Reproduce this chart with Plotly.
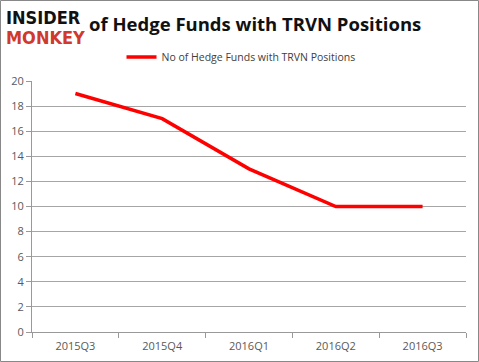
import plotly.graph_objects as go

quarters = ["2015Q3", "2015Q4", "2016Q1", "2016Q2", "2016Q3"]
funds = [19, 17, 13, 10, 10]
y_ticks = [0, 2, 4, 6, 8, 10, 12, 14, 16, 18, 20]

W, H = 479, 362
ml, mr, mt, mb = 32, 13, 81, 30
pw, ph = W - ml - mr, H - mt - mb

def px(x):
    return (x - ml) / pw

def py(y):
    return (H - mb - y) / ph

fig = go.Figure()
fig.add_trace(go.Scatter(
    x=quarters, y=funds, mode="lines",
    line=dict(color="#ff0000", width=3.5),
    name="No of Hedge Funds with TRVN Positions",
))

logo_font = "DejaVu Sans Condensed, DejaVu Sans, sans-serif"

fig.update_layout(
    width=W, height=H,
    margin=dict(l=ml, r=mr, t=mt, b=mb),
    paper_bgcolor="white", plot_bgcolor="white",
    showlegend=True,
    legend=dict(orientation="h", x=px(241), xanchor="center", y=py(57), yanchor="middle",
                font=dict(family="Open Sans, Liberation Sans, sans-serif", size=10.5, color="#404040"),
                bgcolor="rgba(0,0,0,0)", itemwidth=30),
    xaxis=dict(
        type="category", showgrid=False, showline=True, linecolor="#999999", linewidth=1,
        ticks="outside", tickson="boundaries", ticklen=5, tickcolor="#999999",
        ticklabelstandoff=4, automargin=False,
        tickfont=dict(family="Open Sans, Liberation Sans, sans-serif", size=11, color="#595959"),
        range=[-0.5, 4.5], fixedrange=True,
    ),
    yaxis=dict(
        range=[0, 20], tickvals=y_ticks, showgrid=True, gridcolor="#a6a6a6", gridwidth=1,
        showline=True, linecolor="#999999", linewidth=1, ticks="outside", ticklen=5,
        tickcolor="#999999", zeroline=False, fixedrange=True, automargin=False,
        tickfont=dict(family="Open Sans, Liberation Sans, sans-serif", size=11, color="#595959"),
    ),
    annotations=[
        dict(text="<b>INSIDER</b>", x=px(4), y=py(17), xref="paper", yref="paper",
             xanchor="left", yanchor="middle", showarrow=False,
             font=dict(family=logo_font, size=18, color="#111111")),
        dict(text="<b>MONKEY</b>", x=px(4), y=py(38), xref="paper", yref="paper",
             xanchor="left", yanchor="middle", showarrow=False,
             font=dict(family=logo_font, size=18, color="#d0392b")),
        dict(text="<b>of Hedge Funds with TRVN Positions</b>", x=px(87), y=py(24), xref="paper", yref="paper",
             xanchor="left", yanchor="middle", showarrow=False,
             font=dict(family="Open Sans, Liberation Sans, sans-serif", size=18.5, color="#111111")),
    ],
    shapes=[
        dict(type="rect", xref="paper", yref="paper", x0=px(0.5), x1=px(W - 0.5),
             y0=py(H - 0.5), y1=py(0.5), line=dict(color="#888888", width=1), layer="below"),
    ],
)

fig.write_html("out.html", config={"displayModeBar": False},
               post_script="document.body.style.margin='0';document.body.style.overflow='hidden';")
